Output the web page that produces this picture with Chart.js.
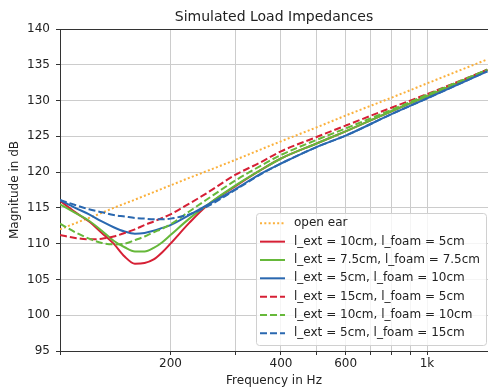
<!DOCTYPE html>
<html>
<head>
<meta charset="utf-8">
<script src="https://cdn.jsdelivr.net/npm/chart.js@4.4.0/dist/chart.umd.min.js"></script>
<style>
html, body { margin: 0; padding: 0; background: #fff; overflow: hidden; }
#wrap { width: 488px; height: 392px; }
</style>
</head>
<body>
<div id="wrap"><canvas id="chart" width="488" height="392"></canvas></div>
<script>
// frequencies in Hz (log axis)
const freqs = [100, 110, 120, 130, 140, 150, 160, 170, 180, 190, 200, 225, 250, 300, 350, 400, 500, 600, 800, 1000, 1460];

// magnitude in dB
const openEar     = [112.0, 112.85, 113.6, 114.3, 115.0, 115.6, 116.15, 116.7, 117.2, 117.7, 118.15, 119.2, 120.1, 121.7, 123.1, 124.3, 126.25, 127.9, 130.4, 132.4, 135.75];
const ext10foam5  = [116.0, 114.4, 113.1, 111.5, 110.0, 108.2, 107.2, 107.3, 107.8, 108.8, 110.0, 112.9, 115.2, 118.0, 120.2, 121.9, 124.0, 125.7, 128.5, 130.6, 134.3];
const ext75foam75 = [115.5, 114.3, 113.2, 111.8, 110.4, 109.5, 108.9, 108.9, 109.4, 110.2, 111.2, 113.5, 115.3, 118.1, 120.2, 121.9, 124.0, 125.7, 128.5, 130.6, 134.3];
const ext5foam10  = [116.1, 115.0, 114.1, 113.1, 112.3, 111.7, 111.4, 111.5, 111.8, 112.2, 112.6, 114.0, 115.3, 117.6, 119.7, 121.2, 123.5, 125.1, 128.1, 130.3, 134.1];
const ext15foam5  = [111.2, 110.8, 110.6, 110.7, 111.0, 111.5, 112.0, 112.6, 113.1, 113.6, 114.1, 115.6, 117.0, 119.6, 121.3, 122.9, 124.9, 126.5, 129.0, 130.9, 134.3];
const ext10foam10 = [112.8, 111.6, 110.7, 110.1, 109.9, 110.0, 110.5, 111.0, 111.6, 112.1, 112.7, 114.5, 116.1, 118.8, 120.8, 122.4, 124.5, 126.1, 128.7, 130.8, 134.3];
const ext5foam15  = [116.1, 115.4, 114.8, 114.4, 114.0, 113.8, 113.6, 113.5, 113.4, 113.4, 113.5, 114.1, 115.1, 117.5, 119.6, 121.2, 123.5, 125.1, 128.1, 130.3, 134.1];

const seriesLabels = [
    'open ear',
    'l_ext = 10cm, l_foam = 5cm',
    'l_ext = 7.5cm, l_foam = 7.5cm',
    'l_ext = 5cm, l_foam = 10cm',
    'l_ext = 15cm, l_foam = 5cm',
    'l_ext = 10cm, l_foam = 10cm',
    'l_ext = 5cm, l_foam = 15cm'
];
const seriesValues = [openEar, ext10foam5, ext75foam75, ext5foam10, ext15foam5, ext10foam10, ext5foam15];

const xTickValues = [100, 200, 300, 400, 500, 600, 700, 800, 900, 1000];
const xTickLabels = ['', '200', '', '400', '', '600', '', '', '', '1k'];

const ORANGE = '#fbb03b';
const RED = '#d62035';
const GREEN = '#66b83a';
const BLUE = '#2a68b0';
const seriesColors = [ORANGE, RED, GREEN, BLUE, RED, GREEN, BLUE];
const DOT = [2, 2.3];
const DASH = [7, 3];
const seriesDash = [DOT, [], [], [], DASH, DASH, DASH];

Chart.defaults.font.family = '"DejaVu Sans", sans-serif';
Chart.defaults.font.size = 12;
Chart.defaults.color = '#222';

const datasets = seriesValues.map(function (vals, i) {
    return {
        label: seriesLabels[i],
        data: freqs.map((f, j) => ({ x: f, y: vals[j] })),
        borderColor: seriesColors[i],
        backgroundColor: seriesColors[i],
        borderDash: seriesDash[i],
        borderWidth: 2,
        pointRadius: 0,
        fill: false,
        cubicInterpolationMode: 'monotone',
        order: seriesValues.length - i
    };
});

// top spine + title centred over the axes
const frame = {
    id: 'frame',
    afterDraw(chart) {
        const { ctx, chartArea: a } = chart;
        ctx.save();
        ctx.strokeStyle = '#333';
        ctx.lineWidth = 1;
        ctx.beginPath();
        ctx.moveTo(a.left, a.top + 0.5);
        ctx.lineTo(a.right, a.top + 0.5);
        ctx.stroke();
        ctx.fillStyle = '#222';
        ctx.font = '14px "DejaVu Sans"';
        ctx.textAlign = 'center';
        ctx.textBaseline = 'alphabetic';
        ctx.fillText('Simulated Load Impedances', (a.left + a.right) / 2, a.top - 8.5);
        ctx.restore();
    }
};

// legend box in the lower right corner of the axes
const boxLegend = {
    id: 'boxLegend',
    afterDraw(chart) {
        const { ctx, chartArea: a } = chart;
        const rowH = 18.33;
        ctx.save();
        ctx.font = '12px "DejaVu Sans"';
        let maxW = 0;
        seriesLabels.forEach(t => { maxW = Math.max(maxW, ctx.measureText(t).width); });
        const w = 4 + 25 + 9 + maxW + 6;
        const h = 10.3 + rowH * (seriesLabels.length - 1) + 11.7;
        const right = a.right - 2;
        const bottom = a.bottom - 6;
        const left = right - w;
        const top = bottom - h;

        ctx.beginPath();
        ctx.roundRect(left + 0.5, top + 0.5, w, h, 3);
        ctx.fillStyle = 'rgba(255,255,255,0.8)';
        ctx.fill();
        ctx.strokeStyle = '#d0d0d0';
        ctx.lineWidth = 1;
        ctx.stroke();

        seriesLabels.forEach(function (t, i) {
            const y = top + 10.3 + i * rowH;
            ctx.beginPath();
            ctx.setLineDash(seriesDash[i]);
            ctx.strokeStyle = seriesColors[i];
            ctx.lineWidth = 2;
            ctx.moveTo(left + 4, y);
            ctx.lineTo(left + 29, y);
            ctx.stroke();
            ctx.setLineDash([]);
            ctx.fillStyle = '#222';
            ctx.textAlign = 'left';
            ctx.textBaseline = 'middle';
            ctx.fillText(t, left + 38, y);
        });
        ctx.restore();
    }
};

new Chart(document.getElementById('chart'), {
    type: 'line',
    data: { datasets: datasets },
    options: {
        responsive: false,
        animation: false,
        devicePixelRatio: 1,
        layout: { padding: { top: 29, left: 0, right: 0, bottom: 0 } },
        plugins: {
            legend: { display: false },
            title: { display: false },
            tooltip: { enabled: false }
        },
        scales: {
            x: {
                type: 'logarithmic',
                min: 100,
                max: 1466,
                afterBuildTicks: function (s) {
                    s.ticks = xTickValues.map(v => ({ value: v }));
                },
                afterFit: function (s) { s.height = 41; },
                ticks: {
                    autoSkip: false,
                    maxRotation: 0,
                    padding: 2,
                    callback: function (v) {
                        const i = xTickValues.indexOf(v);
                        return i >= 0 ? xTickLabels[i] : '';
                    }
                },
                grid: { color: '#cccccc', tickColor: '#333', tickLength: 4, lineWidth: 1 },
                border: { color: '#333', width: 1 },
                title: { display: true, text: 'Frequency in Hz', font: { size: 12 }, padding: { top: 0, bottom: 4 } }
            },
            y: {
                min: 95,
                max: 140,
                afterFit: function (s) { s.width = 60; },
                ticks: { stepSize: 5, padding: 6 },
                grid: { color: '#cccccc', tickColor: '#333', tickLength: 4, lineWidth: 1 },
                border: { color: '#333', width: 1 },
                title: { display: true, text: 'Magnitude in dB', font: { size: 12 }, padding: { top: 8, bottom: 0 } }
            }
        }
    },
    plugins: [frame, boxLegend]
});
</script>
</body>
</html>
